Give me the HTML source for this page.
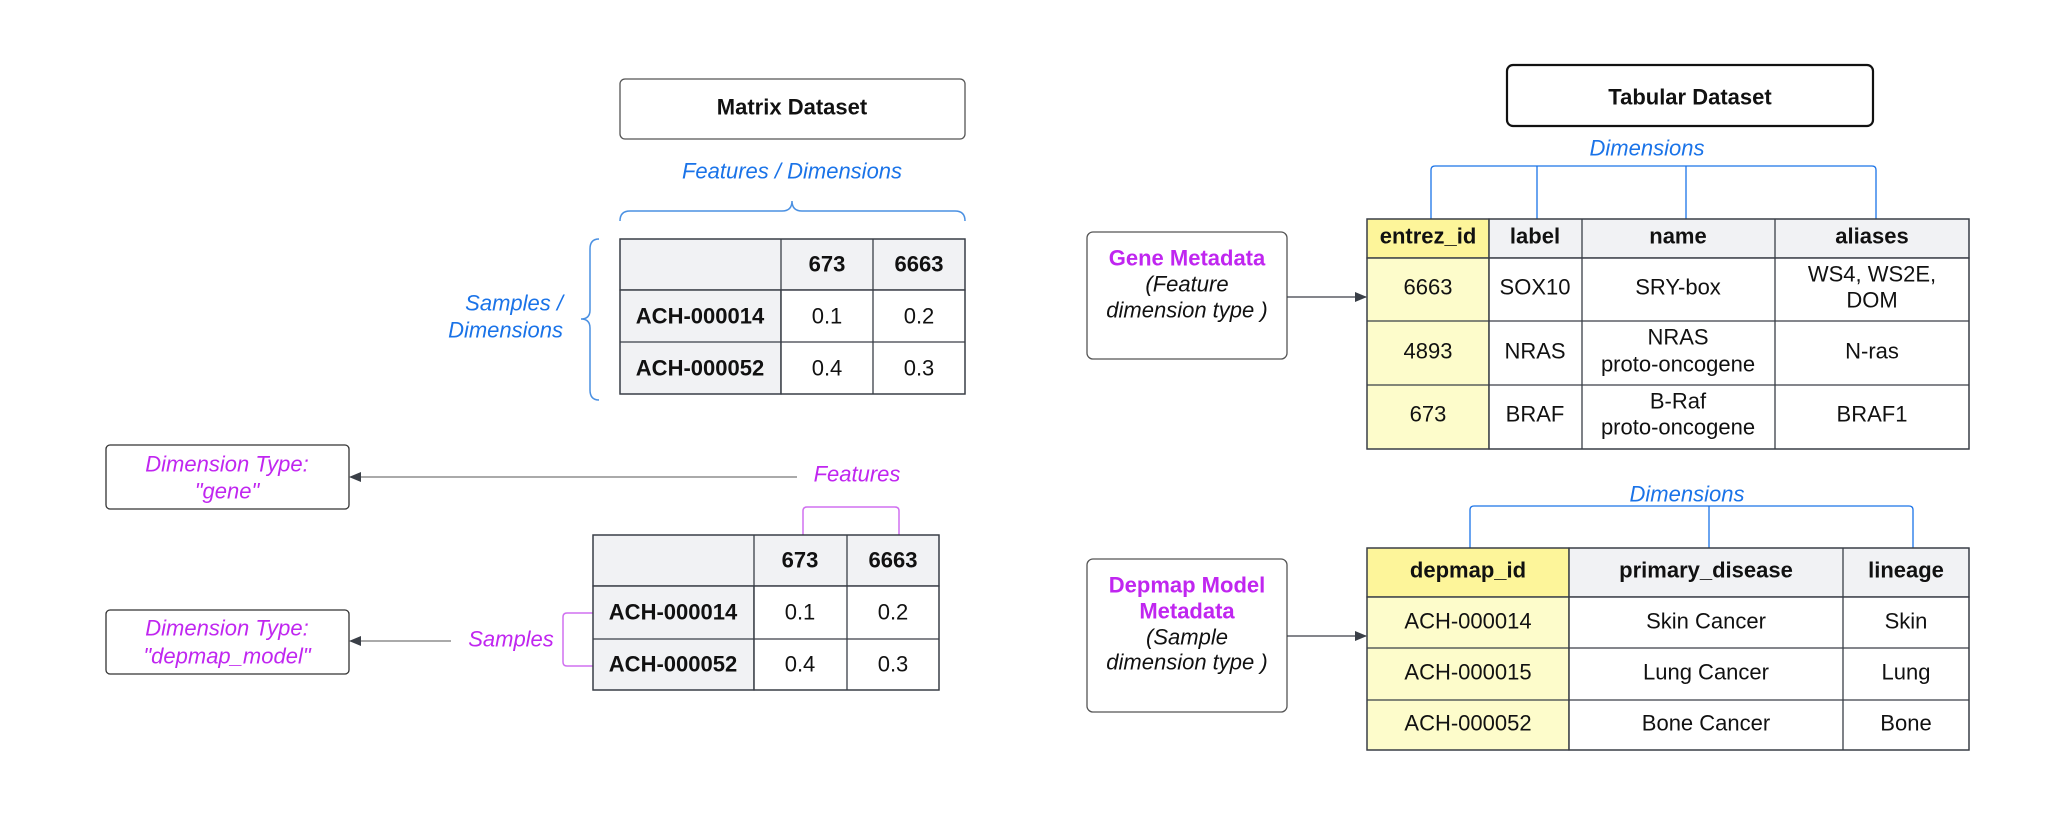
<!DOCTYPE html>
<html><head><meta charset="utf-8"><style>
html,body{margin:0;padding:0;background:#fff;}
svg{display:block;font-family:"Liberation Sans",Arial,sans-serif;}
.b{font-weight:bold}
.c{text-anchor:middle;dominant-baseline:central;font-size:22px;fill:#111}
.bl{fill:#1a73e8;font-style:italic;font-size:22px}
.mg{fill:#c026f0;font-style:italic;font-size:22px}
.cell{stroke:#3a3f47;stroke-width:1.3}
</style></head><body>
<svg width="2060" height="832" viewBox="0 0 2060 832" xmlns="http://www.w3.org/2000/svg">
<defs><marker id="ar" markerWidth="12" markerHeight="10" refX="11" refY="5" orient="auto" markerUnits="userSpaceOnUse"><path d="M0,0 L12,5 L0,10 z" fill="#3a3f47"/></marker></defs>

<rect x="620" y="79" width="345" height="60" rx="5" fill="#fff" stroke="#555" stroke-width="1.3"/>
<text x="792" y="107" class="c b">Matrix Dataset</text>
<text x="792" y="171" class="bl" text-anchor="middle" dominant-baseline="central">Features / Dimensions</text>
<path d="M620,221 Q620,211 630,211 L782,211 Q792,211 792,201 Q792,211 802,211 L955,211 Q965,211 965,221" fill="none" stroke="#4a90e2" stroke-width="1.5"/>
<path d="M599,239 Q590,239 590,249 L590,310 Q590,319 581,319 Q590,319 590,328 L590,390 Q590,400 599,400" fill="none" stroke="#4a90e2" stroke-width="1.5"/>
<text x="563" y="303" class="bl" text-anchor="end" dominant-baseline="central">Samples /</text>
<text x="563" y="330" class="bl" text-anchor="end" dominant-baseline="central">Dimensions</text>

<g class="cell">
<rect x="620" y="239" width="345" height="51" fill="#f1f2f4"/>
<rect x="620" y="290" width="161" height="104" fill="#f1f2f4"/>
<rect x="781" y="290" width="184" height="104" fill="#fff"/>
<rect x="620" y="239" width="345" height="155" fill="none"/>
<line x1="781" y1="239" x2="781" y2="394"/><line x1="873" y1="239" x2="873" y2="394"/>
<line x1="620" y1="290" x2="965" y2="290"/><line x1="620" y1="342" x2="965" y2="342"/>
</g>
<text x="827" y="264" class="c b">673</text><text x="919" y="264" class="c b">6663</text>
<text x="700" y="316" class="c b">ACH-000014</text><text x="827" y="316" class="c">0.1</text><text x="919" y="316" class="c">0.2</text>
<text x="700" y="368" class="c b">ACH-000052</text><text x="827" y="368" class="c">0.4</text><text x="919" y="368" class="c">0.3</text>

<rect x="106" y="445" width="243" height="64" rx="4" fill="#fff" stroke="#333" stroke-width="1.3"/>
<text x="227" y="464" class="mg" text-anchor="middle" dominant-baseline="central">Dimension Type:</text>
<text x="227" y="491" class="mg" text-anchor="middle" dominant-baseline="central">"gene"</text>
<line x1="797" y1="477" x2="350" y2="477" stroke="#555" stroke-width="1" marker-end="url(#ar)"/>
<text x="857" y="474" class="mg" text-anchor="middle" dominant-baseline="central">Features</text>
<path d="M803,535 L803,511 Q803,507 807,507 L895,507 Q899,507 899,511 L899,535" fill="none" stroke="#d070f0" stroke-width="1.5"/>

<rect x="106" y="610" width="243" height="64" rx="4" fill="#fff" stroke="#333" stroke-width="1.3"/>
<text x="227" y="628" class="mg" text-anchor="middle" dominant-baseline="central">Dimension Type:</text>
<text x="227" y="656" class="mg" text-anchor="middle" dominant-baseline="central">"depmap_model"</text>
<line x1="451" y1="641" x2="350" y2="641" stroke="#555" stroke-width="1" marker-end="url(#ar)"/>
<text x="511" y="639" class="mg" text-anchor="middle" dominant-baseline="central">Samples</text>
<path d="M593,613 L567,613 Q563,613 563,617 L563,662 Q563,666 567,666 L593,666" fill="none" stroke="#d070f0" stroke-width="1.5"/>

<g class="cell">
<rect x="593" y="535" width="346" height="51" fill="#f1f2f4"/>
<rect x="593" y="586" width="161" height="104" fill="#f1f2f4"/>
<rect x="754" y="586" width="185" height="104" fill="#fff"/>
<rect x="593" y="535" width="346" height="155" fill="none"/>
<line x1="754" y1="535" x2="754" y2="690"/><line x1="847" y1="535" x2="847" y2="690"/>
<line x1="593" y1="586" x2="939" y2="586"/><line x1="593" y1="639" x2="939" y2="639"/>
</g>
<text x="800" y="560" class="c b">673</text><text x="893" y="560" class="c b">6663</text>
<text x="673" y="612" class="c b">ACH-000014</text><text x="800" y="612" class="c">0.1</text><text x="893" y="612" class="c">0.2</text>
<text x="673" y="664" class="c b">ACH-000052</text><text x="800" y="664" class="c">0.4</text><text x="893" y="664" class="c">0.3</text>

<rect x="1507" y="65" width="366" height="61" rx="6" fill="#fff" stroke="#111" stroke-width="2.2"/>
<text x="1690" y="97" class="c b">Tabular Dataset</text>
<text x="1647" y="148" class="bl" text-anchor="middle" dominant-baseline="central">Dimensions</text>
<path d="M1431,219 L1431,170 Q1431,166 1435,166 L1872,166 Q1876,166 1876,170 L1876,219 M1537,166 L1537,219 M1686,166 L1686,219" fill="none" stroke="#1a73e8" stroke-width="1.3"/>

<rect x="1087" y="232" width="200" height="127" rx="6" fill="#fff" stroke="#555" stroke-width="1.3"/>
<text x="1187" y="258" class="c b" style="fill:#c026f0">Gene Metadata</text>
<text x="1187" y="284" class="c" style="font-style:italic">(Feature</text>
<text x="1187" y="310" class="c" style="font-style:italic">dimension type )</text>
<line x1="1287" y1="297" x2="1366" y2="297" stroke="#3a3f47" stroke-width="1.2" marker-end="url(#ar)"/>

<g class="cell">
<rect x="1367" y="219" width="122" height="39" fill="#fdf59a"/>
<rect x="1489" y="219" width="480" height="39" fill="#f1f2f4"/>
<rect x="1367" y="258" width="122" height="191" fill="#fdfccb"/>
<rect x="1489" y="258" width="480" height="191" fill="#fff"/>
<rect x="1367" y="219" width="602" height="230" fill="none"/>
<line x1="1489" y1="219" x2="1489" y2="449"/><line x1="1582" y1="219" x2="1582" y2="449"/><line x1="1775" y1="219" x2="1775" y2="449"/>
<line x1="1367" y1="258" x2="1969" y2="258"/><line x1="1367" y1="321" x2="1969" y2="321"/><line x1="1367" y1="385" x2="1969" y2="385"/>
</g>
<text x="1428" y="236" class="c b">entrez_id</text><text x="1535" y="236" class="c b">label</text><text x="1678" y="236" class="c b">name</text><text x="1872" y="236" class="c b">aliases</text>
<text x="1428" y="287" class="c">6663</text><text x="1535" y="287" class="c">SOX10</text><text x="1678" y="287" class="c">SRY-box</text>
<text x="1872" y="274" class="c">WS4, WS2E,</text><text x="1872" y="300" class="c">DOM</text>
<text x="1428" y="351" class="c">4893</text><text x="1535" y="351" class="c">NRAS</text>
<text x="1678" y="337" class="c">NRAS</text><text x="1678" y="364" class="c">proto-oncogene</text><text x="1872" y="351" class="c">N-ras</text>
<text x="1428" y="414" class="c">673</text><text x="1535" y="414" class="c">BRAF</text>
<text x="1678" y="401" class="c">B-Raf</text><text x="1678" y="427" class="c">proto-oncogene</text><text x="1872" y="414" class="c">BRAF1</text>

<text x="1687" y="494" class="bl" text-anchor="middle" dominant-baseline="central">Dimensions</text>
<path d="M1470,548 L1470,510 Q1470,506 1474,506 L1909,506 Q1913,506 1913,510 L1913,548 M1709,506 L1709,548" fill="none" stroke="#1a73e8" stroke-width="1.3"/>

<rect x="1087" y="559" width="200" height="153" rx="6" fill="#fff" stroke="#555" stroke-width="1.3"/>
<text x="1187" y="585" class="c b" style="fill:#c026f0">Depmap Model</text>
<text x="1187" y="611" class="c b" style="fill:#c026f0">Metadata</text>
<text x="1187" y="637" class="c" style="font-style:italic">(Sample</text>
<text x="1187" y="662" class="c" style="font-style:italic">dimension type )</text>
<line x1="1287" y1="636" x2="1366" y2="636" stroke="#3a3f47" stroke-width="1.2" marker-end="url(#ar)"/>

<g class="cell">
<rect x="1367" y="548" width="202" height="49" fill="#fdf59a"/>
<rect x="1569" y="548" width="400" height="49" fill="#f1f2f4"/>
<rect x="1367" y="597" width="202" height="153" fill="#fdfccb"/>
<rect x="1569" y="597" width="400" height="153" fill="#fff"/>
<rect x="1367" y="548" width="602" height="202" fill="none"/>
<line x1="1569" y1="548" x2="1569" y2="750"/><line x1="1843" y1="548" x2="1843" y2="750"/>
<line x1="1367" y1="597" x2="1969" y2="597"/><line x1="1367" y1="648" x2="1969" y2="648"/><line x1="1367" y1="700" x2="1969" y2="700"/>
</g>
<text x="1468" y="570" class="c b">depmap_id</text><text x="1706" y="570" class="c b">primary_disease</text><text x="1906" y="570" class="c b">lineage</text>
<text x="1468" y="621" class="c">ACH-000014</text><text x="1706" y="621" class="c">Skin Cancer</text><text x="1906" y="621" class="c">Skin</text>
<text x="1468" y="672" class="c">ACH-000015</text><text x="1706" y="672" class="c">Lung Cancer</text><text x="1906" y="672" class="c">Lung</text>
<text x="1468" y="723" class="c">ACH-000052</text><text x="1706" y="723" class="c">Bone Cancer</text><text x="1906" y="723" class="c">Bone</text>
</svg>
</body></html>
